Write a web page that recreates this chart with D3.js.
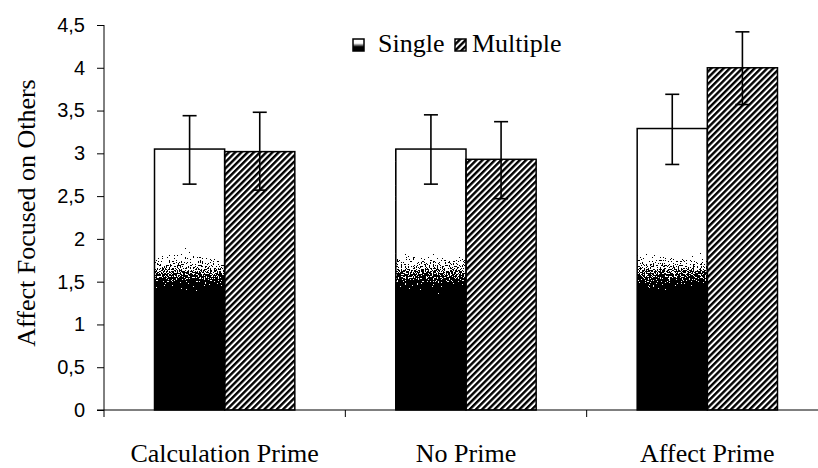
<!DOCTYPE html>
<html>
<head>
<meta charset="utf-8">
<script src="https://cdn.jsdelivr.net/npm/d3@7"></script>
<style>
  body { margin: 0; background: #fff; }
  svg { display: block; }
</style>
</head>
<body>
<svg id="chart" width="818" height="468"></svg>
<script>
// values
const categories = ['Calculation Prime', 'No Prime', 'Affect Prime'];
const series = ['Single', 'Multiple'];
const singleMean = [3.05, 3.05, 3.29];
const singleLow = [2.64, 2.64, 2.87];
const singleHigh = [3.44, 3.45, 3.69];
const multipleMean = [3.02, 2.93, 4.0];
const multipleLow = [2.57, 2.47, 3.57];
const multipleHigh = [3.48, 3.37, 4.42];
const yTicks = [0, 0.5, 1, 1.5, 2, 2.5, 3, 3.5, 4, 4.5];

const rows = [];
categories.forEach(function(c, i) {
  rows.push({ cat: c, s: 'Single', v: singleMean[i], lo: singleLow[i], hi: singleHigh[i] });
  rows.push({ cat: c, s: 'Multiple', v: multipleMean[i], lo: multipleLow[i], hi: multipleHigh[i] });
});

const svg = d3.select('#chart');
const plotLeft = 104, plotBottom = 410, plotTop = 25;
const serif = "'Liberation Serif', 'Times New Roman', Times, serif";

let y = d3.scaleLinear().domain([0, 4.5]).range([plotBottom, plotTop]);
let x = d3.scaleBand().domain(categories).range([plotLeft, 828]);
let xs = d3.scaleBand().domain(series).range([0, x.bandwidth()]).paddingOuter(0.72);

const defs = svg.append('defs');

// hatch for Multiple
let hatch = defs.append('pattern')
  .attr('id', 'hatch')
  .attr('patternUnits', 'userSpaceOnUse')
  .attr('width', 4.4).attr('height', 4.4)
  .attr('patternTransform', 'rotate(45)');
hatch.append('rect').attr('width', 4.4).attr('height', 4.4).attr('fill', '#fff');
hatch.append('rect').attr('width', 2.4).attr('height', 4.4).attr('fill', '#000');

// white-to-black fill for Single, tied to the value axis
let grad = defs.append('linearGradient')
  .attr('id', 'fade')
  .attr('gradientUnits', 'userSpaceOnUse')
  .attr('x1', 0).attr('x2', 0)
  .attr('y1', y(1.95)).attr('y2', y(1.3));
grad.append('stop').attr('offset', 0).attr('stop-color', '#fff');
grad.append('stop').attr('offset', 1).attr('stop-color', '#000');

let iconGrad = defs.append('linearGradient')
  .attr('id', 'fadeIcon')
  .attr('x1', 0).attr('x2', 0).attr('y1', 0).attr('y2', 1);
iconGrad.append('stop').attr('offset', 0.35).attr('stop-color', '#fff');
iconGrad.append('stop').attr('offset', 0.65).attr('stop-color', '#000');

// speckle the gradient into black and white dots
let dither = defs.append('filter')
  .attr('id', 'dither')
  .attr('x', 0).attr('y', 0).attr('width', 1).attr('height', 1)
  .attr('color-interpolation-filters', 'sRGB');
dither.append('feTurbulence')
  .attr('type', 'fractalNoise').attr('baseFrequency', 0.75)
  .attr('numOctaves', 2).attr('seed', 4).attr('result', 'noise');
dither.append('feColorMatrix')
  .attr('in', 'noise').attr('type', 'matrix')
  .attr('values', '1 0 0 0 0  1 0 0 0 0  1 0 0 0 0  0 0 0 0 1')
  .attr('result', 'gray');
dither.append('feComposite')
  .attr('in', 'SourceGraphic').attr('in2', 'gray')
  .attr('operator', 'arithmetic')
  .attr('k1', 0).attr('k2', 1).attr('k3', 1.2).attr('k4', -0.6)
  .attr('result', 'mix');
let ct = dither.append('feComponentTransfer').attr('in', 'mix');
['feFuncR', 'feFuncG', 'feFuncB'].forEach(function(f) {
  ct.append(f).attr('type', 'discrete').attr('tableValues', '0 1');
});
ct.append('feFuncA').attr('type', 'linear').attr('slope', 0).attr('intercept', 1);

function fillFor(s) { return s === 'Single' ? 'url(#fade)' : 'url(#hatch)'; }

// bars
let bars = svg.append('g');
bars.selectAll('rect.fill')
  .data(rows)
  .join('rect')
  .attr('class', 'fill')
  .attr('x', function(d) { return x(d.cat) + xs(d.s); })
  .attr('y', function(d) { return y(d.v); })
  .attr('width', xs.bandwidth())
  .attr('height', function(d) { return y(0) - y(d.v); })
  .attr('fill', function(d) { return fillFor(d.s); })
  .attr('filter', function(d) { return d.s === 'Single' ? 'url(#dither)' : null; });
bars.selectAll('rect.edge')
  .data(rows)
  .join('rect')
  .attr('class', 'edge')
  .attr('x', function(d) { return x(d.cat) + xs(d.s); })
  .attr('y', function(d) { return y(d.v); })
  .attr('width', xs.bandwidth())
  .attr('height', function(d) { return y(0) - y(d.v); })
  .attr('fill', 'none')
  .attr('stroke', '#000')
  .attr('stroke-width', 1.5);

// error bars
let err = svg.append('g').attr('stroke', '#000').attr('stroke-width', 1.6);
rows.forEach(function(d) {
  let cx = x(d.cat) + xs(d.s) + xs.bandwidth() / 2;
  err.append('line').attr('x1', cx).attr('x2', cx).attr('y1', y(d.hi)).attr('y2', y(d.lo));
  err.append('line').attr('x1', cx - 7).attr('x2', cx + 7).attr('y1', y(d.hi)).attr('y2', y(d.hi));
  err.append('line').attr('x1', cx - 7).attr('x2', cx + 7).attr('y1', y(d.lo)).attr('y2', y(d.lo));
});

// y axis
let yAxis = svg.append('g')
  .attr('transform', 'translate(' + plotLeft + ',0)')
  .call(d3.axisLeft(y).tickValues(yTicks).tickSize(7).tickPadding(12)
    .tickFormat(function(d) { return String(d).replace('.', ','); }));
yAxis.selectAll('text')
  .attr('font-family', "'Liberation Sans', Arial, sans-serif")
  .attr('font-size', 20)
  .attr('fill', '#000');
yAxis.select('.domain').attr('d', 'M0,' + plotTop + 'V' + plotBottom).attr('stroke', '#000');
yAxis.selectAll('.tick line').attr('stroke', '#000');

// x axis
let xAxis = svg.append('g').attr('transform', 'translate(0,' + plotBottom + ')');
xAxis.append('line').attr('x1', plotLeft - 7).attr('x2', 818).attr('y1', 0).attr('y2', 0).attr('stroke', '#000');
xAxis.selectAll('line.tk')
  .data(categories)
  .join('line')
  .attr('class', 'tk')
  .attr('x1', function(d) { return x(d); })
  .attr('x2', function(d) { return x(d); })
  .attr('y1', 0).attr('y2', 7)
  .attr('stroke', '#000');
xAxis.selectAll('text')
  .data(categories)
  .join('text')
  .attr('x', function(d) { return x(d) + x.bandwidth() / 2; })
  .attr('y', 52)
  .attr('text-anchor', 'middle')
  .attr('font-family', serif)
  .attr('font-size', 26)
  .text(function(d) { return d; });

// y title
svg.append('text')
  .attr('transform', 'translate(35,213) rotate(-90)')
  .attr('text-anchor', 'middle')
  .attr('font-family', serif)
  .attr('font-size', 26)
  .text('Affect Focused on Others');

// legend
let legend = svg.append('g')
  .attr('font-family', serif)
  .attr('font-size', 26);
let lx = [353, 455];
let tx = [378, 472];
series.forEach(function(s, i) {
  legend.append('rect')
    .attr('x', lx[i]).attr('y', 39)
    .attr('width', 11).attr('height', 12)
    .attr('fill', s === 'Single' ? 'url(#fadeIcon)' : 'url(#hatch)')
    .attr('stroke', '#000').attr('stroke-width', 1.5);
  legend.append('text')
    .attr('x', tx[i]).attr('y', 52)
    .text(s);
});
</script>
</body>
</html>
